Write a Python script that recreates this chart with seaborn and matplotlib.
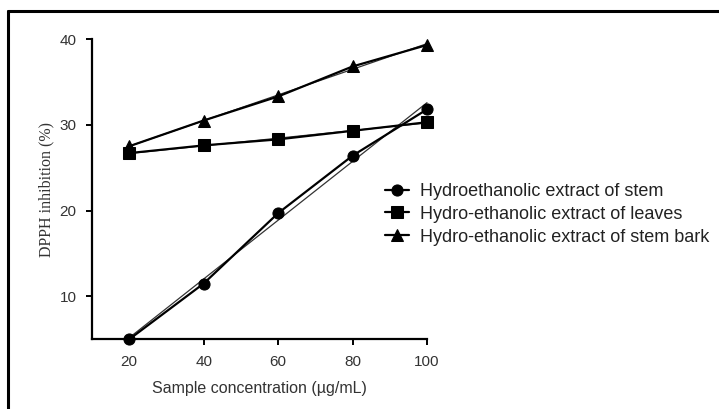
import numpy as np
import pandas as pd
import matplotlib
matplotlib.use("Agg")
import matplotlib.pyplot as plt
import seaborn as sns
from matplotlib.lines import Line2D

# ---- data ----
concentrations = [20, 40, 60, 80, 100]
stem = [5.0, 11.5, 19.7, 26.4, 31.8]
leaves = [26.7, 27.6, 28.3, 29.3, 30.3]
stem_bark = [27.5, 30.5, 33.3, 36.8, 39.3]
series_names = ["Hydroethanolic extract of stem",
                "Hydro-ethanolic extract of leaves",
                "Hydro-ethanolic extract of stem bark"]
x_ticks = [20, 40, 60, 80, 100]
y_ticks = [10, 20, 30, 40]

df = pd.DataFrame({
    "conc": concentrations * 3,
    "value": stem + leaves + stem_bark,
    "series": np.repeat(series_names, len(concentrations)),
})

sns.set_theme(style="white")
plt.rcParams["font.family"] = ["Liberation Sans", "DejaVu Sans"]

W, H = 719, 409
fig = plt.figure(figsize=(W / 100, H / 100), dpi=100)
ax = fig.add_axes([92 / W, 1 - 339.3 / H, (427 - 92) / W, (339.3 - 39) / H])

# regression (fit) lines, thin
for name in series_names:
    sub = df[df["series"] == name]
    sns.regplot(data=sub, x="conc", y="value", ax=ax, scatter=False, ci=None,
                truncate=True, line_kws=dict(color="#333333", lw=0.9))

markers = {series_names[0]: "o", series_names[1]: "s", series_names[2]: "^"}
sns.lineplot(data=df, x="conc", y="value", hue="series", style="series",
             markers=markers, dashes=False, palette=["black"] * 3,
             linewidth=1.6, markersize=8, markeredgecolor="black",
             ax=ax, legend="full")
for ln in ax.lines:
    ln.set_clip_on(False)

ax.set_xlim(10, 100)
ax.set_ylim(5, 40)
ax.set_xticks(x_ticks)
ax.set_yticks(y_ticks)
ax.tick_params(axis="both", direction="out", length=4, width=1.4,
               colors="black", labelsize=11, labelcolor="#333333",
               bottom=True, left=True)
ax.tick_params(axis="x", pad=7)
ax.tick_params(axis="y", pad=7)
for side in ["top", "right"]:
    ax.spines[side].set_visible(False)
for side in ["left", "bottom"]:
    ax.spines[side].set_linewidth(1.6)
    ax.spines[side].set_color("black")

ax.set_xlabel("Sample concentration (\u00b5g/mL)", fontsize=11.5,
              color="#333333", labelpad=9)
ax.set_ylabel("DPPH inhibition (%)", fontsize=11.5, color="#333333",
              family=["Liberation Serif", "DejaVu Serif"], labelpad=4)

handles, labels = ax.get_legend_handles_labels()
leg = ax.legend(handles, labels, loc="upper left",
                bbox_to_anchor=(385 / W, 1 - 183 / H),
                bbox_transform=fig.transFigure, frameon=False,
                fontsize=13, handlelength=1.35, handletextpad=0.6,
                labelspacing=0.32, borderpad=0, borderaxespad=0)
for t in leg.get_texts():
    t.set_color("#222222")

# figure frame (top and left lines)
fig.add_artist(Line2D([7.5 / W, 1.0], [1 - 10.5 / H, 1 - 10.5 / H],
                      transform=fig.transFigure, color="black", lw=2.2))
fig.add_artist(Line2D([7.5 / W, 7.5 / W], [0, 1 - 10.5 / H],
                      transform=fig.transFigure, color="black", lw=2.2))

fig.savefig("out.png", dpi=100)
